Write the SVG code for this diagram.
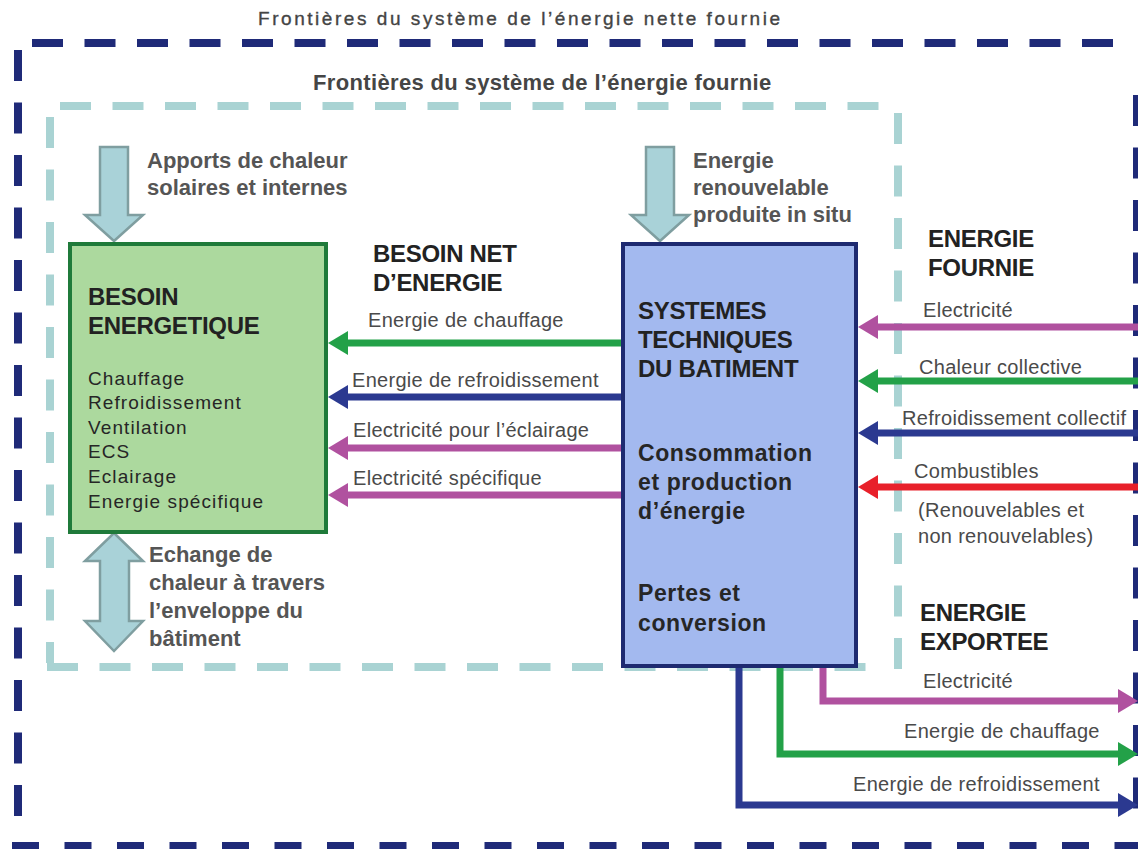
<svg xmlns="http://www.w3.org/2000/svg" width="1138" height="849" viewBox="0 0 1138 849">
<defs>
<style>
text{font-family:"Liberation Sans",Arial,sans-serif}
.t1{font-size:19px;fill:#444;stroke:#444;stroke-width:0.35px}
.t2{font-size:22px;font-weight:bold;fill:#454545;letter-spacing:0.35px}
.hd{font-size:24px;font-weight:bold;fill:#222;letter-spacing:-0.3px}
.bx{font-size:23px;font-weight:bold;fill:#262626;letter-spacing:0.6px}
.ls{font-size:19px;fill:#262626;letter-spacing:1.1px}
.lb{font-size:20px;fill:#4a4a4a;letter-spacing:0.3px}
.ann{font-size:22px;font-weight:bold;fill:#555}
.outer{stroke:#1f2a78;stroke-width:8;stroke-dasharray:31 21.5;fill:none}
.inner{stroke:#a9d3d3;stroke-width:8;stroke-dasharray:31 21.5;fill:none}
.blk{fill:#a9d2d8;stroke:#7f9ea0;stroke-width:2.5;stroke-linejoin:miter}
.c{fill:none;stroke-width:7;stroke-linejoin:miter}
.g{stroke:#23a148}
.n{stroke:#2b3990}
.p{stroke:#b0519f}
.r{stroke:#e8202a}
</style>
<marker id="mg" markerUnits="userSpaceOnUse" markerWidth="20" markerHeight="24" refX="0" refY="12" orient="auto"><path d="M0,0 L20,12 L0,24 z" fill="#23a148"/></marker>
<marker id="mn" markerUnits="userSpaceOnUse" markerWidth="20" markerHeight="24" refX="0" refY="12" orient="auto"><path d="M0,0 L20,12 L0,24 z" fill="#2b3990"/></marker>
<marker id="mp" markerUnits="userSpaceOnUse" markerWidth="20" markerHeight="24" refX="0" refY="12" orient="auto"><path d="M0,0 L20,12 L0,24 z" fill="#b0519f"/></marker>
<marker id="mr" markerUnits="userSpaceOnUse" markerWidth="20" markerHeight="24" refX="0" refY="12" orient="auto"><path d="M0,0 L20,12 L0,24 z" fill="#e8202a"/></marker>
</defs>
<rect width="1138" height="849" fill="#fff"/>

<g id="boundary-net">
<line class="outer" x1="32" y1="43" x2="1120" y2="43"/>
<line class="outer" x1="18" y1="50" x2="18" y2="820"/>
<line class="outer" x1="1137" y1="95" x2="1137" y2="820"/>
<line class="outer" x1="12" y1="846" x2="1138" y2="846" style="stroke-dasharray:27 25.5"/>
<text class="t1" x="258" y="25" textLength="522" lengthAdjust="spacing">Frontières du système de l’énergie nette fournie</text>
</g>

<g id="boundary-delivered">
<line class="inner" x1="60" y1="106" x2="886" y2="106"/>
<line class="inner" x1="50" y1="117" x2="50" y2="663"/>
<line class="inner" x1="898" y1="113" x2="898" y2="672"/>
<line class="inner" x1="47" y1="667" x2="872" y2="667"/>
<text class="t2" x="313" y="90">Frontières du système de l’énergie fournie</text>
</g>

<g id="gains">
<polygon class="blk" points="100,147 128,147 128,215 143,215 114,241 85,215 100,215"/>
<text class="ann" x="147" y="168">Apports de chaleur</text>
<text class="ann" x="147" y="195">solaires et internes</text>
</g>

<g id="renewable">
<polygon class="blk" points="646,147 674,147 674,215 689,215 660,241 631,215 646,215"/>
<text class="ann" x="693" y="168">Energie</text>
<text class="ann" x="693" y="195">renouvelable</text>
<text class="ann" x="693" y="222">produite in situ</text>
</g>

<g id="exchange">
<polygon class="blk" points="114,533 143,561 129,561 129,621 143,621 114,651 85,621 100,621 100,561 85,561"/>
<text class="ann" x="149" y="562">Echange de</text>
<text class="ann" x="149" y="590">chaleur à travers</text>
<text class="ann" x="149" y="618">l’enveloppe du</text>
<text class="ann" x="149" y="646">bâtiment</text>
</g>

<g id="besoin">
<rect x="70" y="244" width="256" height="288" fill="#acd99e" stroke="#1f7a3a" stroke-width="4"/>
<text class="hd" x="88" y="305">BESOIN</text>
<text class="hd" x="88" y="334">ENERGETIQUE</text>
<text class="ls" x="88" y="385">Chauffage</text>
<text class="ls" x="88" y="409">Refroidissement</text>
<text class="ls" x="88" y="434">Ventilation</text>
<text class="ls" x="88" y="458">ECS</text>
<text class="ls" x="88" y="483">Eclairage</text>
<text class="ls" x="88" y="508">Energie spécifique</text>
</g>

<g id="systemes">
<rect x="623" y="244" width="233" height="422" fill="#a3b9ef" stroke="#1e2a70" stroke-width="4"/>
<text class="hd" x="638" y="319">SYSTEMES</text>
<text class="hd" x="638" y="348">TECHNIQUES</text>
<text class="hd" x="638" y="377">DU BATIMENT</text>
<text class="bx" x="638" y="461">Consommation</text>
<text class="bx" x="638" y="490">et production</text>
<text class="bx" x="638" y="519">d’énergie</text>
<text class="bx" x="638" y="601">Pertes et</text>
<text class="bx" x="638" y="631">conversion</text>
</g>

<g id="label-besoin-net">
<text class="hd" x="373" y="262">BESOIN NET</text>
<text class="hd" x="373" y="291">D’ENERGIE</text>
</g>

<g id="label-fournie">
<text class="hd" x="928" y="247">ENERGIE</text>
<text class="hd" x="928" y="276">FOURNIE</text>
</g>

<g id="label-exportee">
<text class="hd" x="920" y="621">ENERGIE</text>
<text class="hd" x="920" y="650">EXPORTEE</text>
</g>

<g id="connectors">
<line class="c g" x1="621" y1="343" x2="348" y2="343" marker-end="url(#mg)"/>
<line class="c n" x1="621" y1="397" x2="348" y2="397" marker-end="url(#mn)"/>
<line class="c p" x1="621" y1="448" x2="348" y2="448" marker-end="url(#mp)"/>
<line class="c p" x1="621" y1="495" x2="348" y2="495" marker-end="url(#mp)"/>

<line class="c p" x1="1140" y1="327" x2="878" y2="327" marker-end="url(#mp)"/>
<line class="c g" x1="1140" y1="381" x2="878" y2="381" marker-end="url(#mg)"/>
<line class="c n" x1="1140" y1="433" x2="878" y2="433" marker-end="url(#mn)"/>
<line class="c r" x1="1140" y1="487" x2="878" y2="487" marker-end="url(#mr)"/>

<path class="c p" d="M823,668 V701 H1118" marker-end="url(#mp)"/>
<path class="c g" d="M780,668 V754 H1118" marker-end="url(#mg)"/>
<path class="c n" d="M739,668 V805 H1118" marker-end="url(#mn)"/>

<text class="lb" x="368" y="327">Energie de chauffage</text>
<text class="lb" x="352" y="387">Energie de refroidissement</text>
<text class="lb" x="353" y="437">Electricité pour l’éclairage</text>
<text class="lb" x="353" y="485">Electricité spécifique</text>

<text class="lb" x="923" y="317">Electricité</text>
<text class="lb" x="919" y="374">Chaleur collective</text>
<text class="lb" x="902" y="425">Refroidissement collectif</text>
<text class="lb" x="914" y="478">Combustibles</text>
<text class="lb" x="918" y="517">(Renouvelables et</text>
<text class="lb" x="918" y="543">non renouvelables)</text>

<text class="lb" x="923" y="688">Electricité</text>
<text class="lb" x="904" y="738">Energie de chauffage</text>
<text class="lb" x="853" y="791">Energie de refroidissement</text>
</g>
</svg>
